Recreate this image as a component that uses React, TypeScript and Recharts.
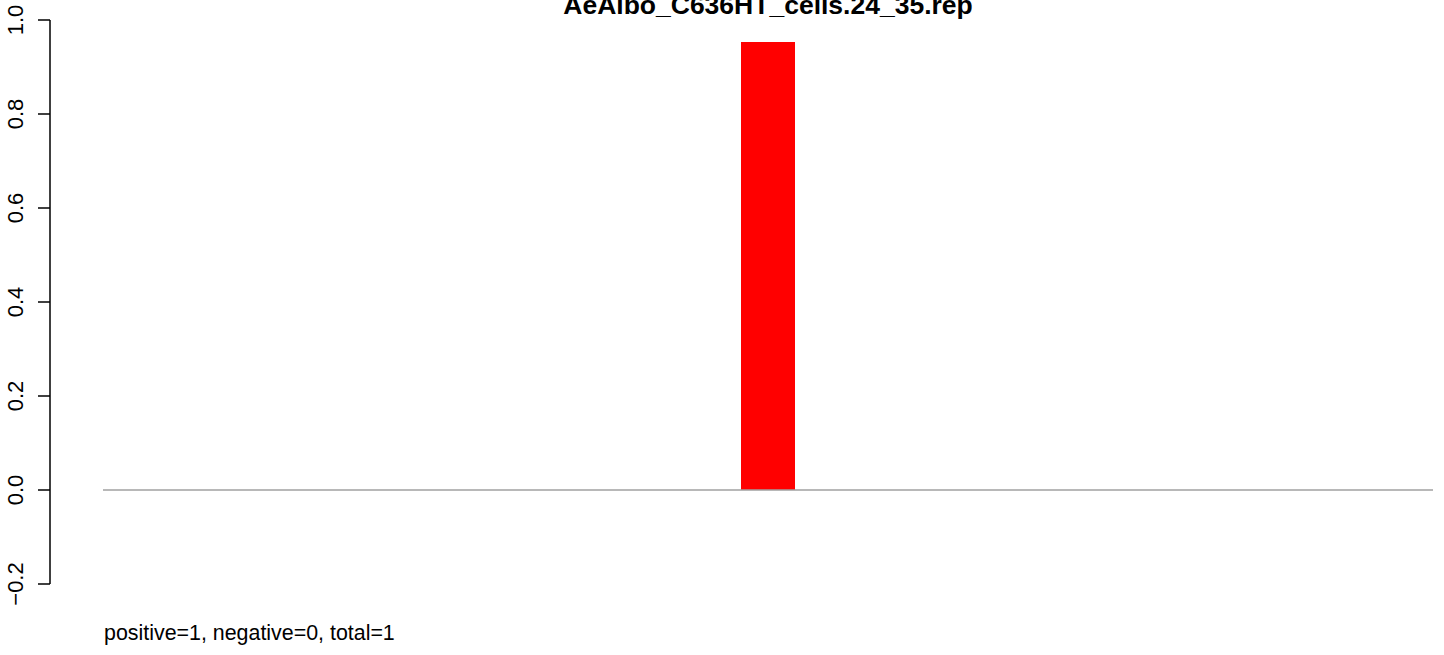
import { ComposedChart, Bar, Line, XAxis, YAxis } from 'recharts';

const categories = ['AeAlbo_C636HT_cells.24_35.rep'];
const values = [0.953];
const yTicks = [-0.2, 0, 0.2, 0.4, 0.6, 0.8, 1.0];
const baselineX = [0, 1];
const title = 'AeAlbo_C636HT_cells.24_35.rep';
const footer = 'positive=1, negative=0, total=1';

const data = categories.map((name, i) => ({ name, value: values[i] }));
const baseline = baselineX.map((bx) => ({ bx, zero: 0 }));

const font = '"Liberation Sans", Arial, sans-serif';

function YTick(props: any) {
  const { y, payload } = props;
  const x = 22.5;
  return (
    <text
      x={x}
      y={y}
      transform={`rotate(-90, ${x}, ${y})`}
      textAnchor="middle"
      fontSize={22}
      fontFamily={font}
      fill="#000"
    >
      {payload.value.toFixed(1).replace('-', '\u2212')}
    </text>
  );
}

export default function App() {
  return (
    <div style={{ position: 'absolute', left: 0, top: 0, width: 1444, height: 655, background: '#fff', overflow: 'hidden' }}>
      <ComposedChart width={1444} height={655} data={data} margin={{ top: 20, right: 11, bottom: 71, left: 0 }}>
        <XAxis dataKey="name" hide padding={{ left: 53, right: 0 }} />
        {/* numeric helper axis so the zero line spans only the bar region */}
        <XAxis
          xAxisId="base"
          dataKey="bx"
          type="number"
          domain={[0, 1]}
          allowDataOverflow
          hide
          padding={{ left: 53, right: 0 }}
        />
        <YAxis
          width={50}
          domain={[-0.2, 1.0]}
          ticks={yTicks}
          type="number"
          tickSize={12}
          axisLine={{ stroke: '#000', strokeWidth: 1.5 }}
          tickLine={{ stroke: '#000', strokeWidth: 1.5 }}
          tick={<YTick />}
          interval={0}
        />
        <Line
          xAxisId="base"
          data={baseline}
          dataKey="zero"
          stroke="#a0a0a0"
          strokeWidth={1.5}
          dot={false}
          activeDot={false}
          isAnimationActive={false}
        />
        <Bar dataKey="value" fill="#ff0000" barSize={54} isAnimationActive={false} />
      </ComposedChart>
      <div
        style={{
          position: 'absolute',
          left: 768,
          top: -8.5,
          transform: 'translateX(-50%)',
          fontFamily: font,
          fontWeight: 'bold',
          fontSize: 26.5,
          lineHeight: '26px',
          whiteSpace: 'nowrap',
          color: '#000',
        }}
      >
        {title}
      </div>
      <div
        style={{
          position: 'absolute',
          left: 104,
          top: 621.5,
          fontFamily: font,
          fontSize: 21.4,
          lineHeight: '22px',
          whiteSpace: 'nowrap',
          color: '#000',
        }}
      >
        {footer}
      </div>
    </div>
  );
}
